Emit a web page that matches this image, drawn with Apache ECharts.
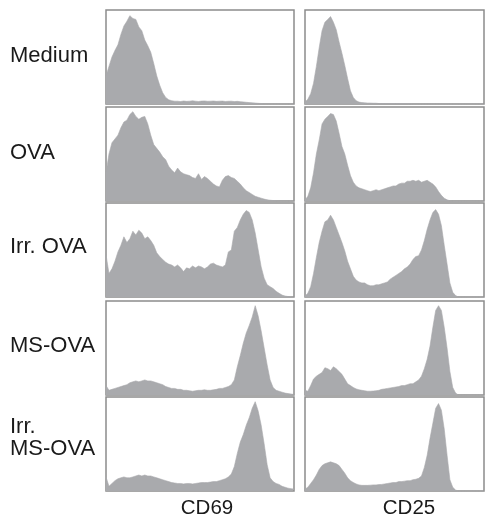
<!DOCTYPE html>
<html>
<head>
<meta charset="utf-8">
<script src="https://cdn.jsdelivr.net/npm/echarts@6/dist/echarts.min.js"></script>
<style>html,body{margin:0;padding:0;background:#fff;}#c{width:485px;height:519px;}</style>
</head>
<body>
<div id="c"></div>
<script>
// Row (sample) labels and column (marker) labels
const rowLabels = ["Medium", "OVA", "Irr. OVA", "MS-OVA", "Irr.\nMS-OVA"];
const colLabels = ["CD69", "CD25"];

// Histogram bin heights (% of panel height), 64 bins each
const mediumCD69 = [30,40,50,57,63,74,83,88,94,91,90,82,78,68,62,55,43,30,20,12,7,4.5,3.5,3,3,2.6,3.2,2.8,3,3.4,3,2.7,3.1,3.3,2.9,3,3.2,2.8,3,3.1,2.7,2.9,3,2.6,2.8,2.5,2.2,1.8,1.5,1.2,1,0.7,0.5,0,0,0,0,0,0,0,0,0,0,0];
const mediumCD25 = [2,5,11,22,40,60,78,87,90,93,87,79,66,54,41,27,14,7,3.5,2,1.5,1.2,1,1,0.8,0.8,0.5,0.5,0.5,0.5,0.5,0.5,0.5,0.5,0.5,0.5,0.5,0.4,0,0,0,0,0,0,0,0,0,0,0,0,0,0,0,0,0,0,0,0,0,0,0,0,0,0];
const ovaCD69 = [30,50,62,66,70,78,84,86,92,95,90,87,89,90,82,70,60,56,52,47,44,37,33,30,35,31,29,28,27,25,24,29,23,26,24,21,18,16,15,22,26,27,25,24,21,18,14,11,9,7,5,4,3,2,1.3,0.8,0.5,0.3,0,0,0,0,0,0];
const ovaCD25 = [1,5,14,30,50,65,82,87,90,93,92,85,72,58,50,38,27,20,16,14,13,12,11,10,11,12,11,12,13,14,15,16,16,18,19,19,21,21,22,21,22,20,21,22,20,18,15,10,6,3,1.2,0.3,0,0,0,0,0,0,0,0,0,0,0,0];
const irrOvaCD69 = [45,25,30,38,48,55,64,58,62,70,66,71,68,62,64,60,55,47,43,40,37,35,34,32,34,31,27,31,30,33,31,33,32,30,32,35,36,34,33,32,34,48,50,70,74,82,88,92,90,82,68,50,32,20,13,11,9,6,4,2,1,0.5,0.2,0];
const irrOvaCD25 = [1,4,11,25,42,58,70,80,82,87,82,74,66,58,49,38,30,22,18,16,15,15,13,12,12,13,13,14,15,16,19,21,23,25,27,30,32,35,40,43,44,50,60,72,82,90,93,88,76,55,35,15,5,1.5,0,0,0,0,0,0,0,0,0,0];
const msOvaCD69 = [10,5,6,7,8,9,10,11,13,14,15,14,15,16,15,15,14,13,12,11,9,8,7,7,6,6,5,5,4.5,4,4.5,5,5,5.5,5,5,5.5,6,7,7,8,9,11,16,30,42,55,66,74,83,95,84,68,50,32,16,8,5,4,3,2,1.5,1,0.5];
const msOvaCD25 = [5,4,10,17,20,22,24,29,28,26,30,28,25,22,17,12,10,8,6.5,5.5,5,4.5,4,4,4.2,4.5,5,6,6.5,7,7.5,8,8.5,9,10,10,11,12,12,14,16,20,28,38,52,72,90,95,90,72,50,25,8,2,0,0,0,0,0,0,0,0,0,0];
const irrMsOvaCD69 = [15,5,8,11,13,14,15,14,14,15,16,17,16,17,16,16,15,14,13,12,11,10,9,8.5,8,8,7.5,8,8,7.5,8,8.5,9,9,9,9.5,10,10,11,12,13,15,18,26,40,52,60,70,78,88,95,85,70,50,28,14,10,8,7,5,4,3,2.5,2];
const irrMsOvaCD25 = [2,4,8,12,17,23,27,29,30,31,30,29,27,23,19,14,11,9,7.5,6.5,6,6,6,6.2,6.5,6.5,6.8,7,7.5,8,8.5,9,9,10,10,10.5,11,11,12,12.5,13.5,16,25,38,56,72,88,93,86,66,38,12,4,1,0,0,0,0,0,0,0,0,0,0];

const panels = [
  [mediumCD69, mediumCD25],
  [ovaCD69, ovaCD25],
  [irrOvaCD69, irrOvaCD25],
  [msOvaCD69, msOvaCD25],
  [irrMsOvaCD69, irrMsOvaCD25]
];
const bins = mediumCD69.map((_, i) => String(i));

const colLeft = [106, 305];
const colWidth = [188, 179];
const rowTop = [10, 107, 203, 301, 397];
const rowHeight = 94;
const fill = '#a9aaad';
const border = '#8c8c8c';

const grids = [], xAxes = [], yAxes = [], series = [];
let k = 0;
for (let r = 0; r < panels.length; r++) {
  for (let c = 0; c < 2; c++) {
    grids.push({left: colLeft[c], top: rowTop[r], width: colWidth[c], height: rowHeight,
      show: true, borderColor: border, borderWidth: 1.5, backgroundColor: '#fff'});
    xAxes.push({type: 'category', gridIndex: k, data: bins, boundaryGap: false, show: false});
    yAxes.push({type: 'value', gridIndex: k, min: 0, max: 100, show: false});
    series.push({type: 'line', xAxisIndex: k, yAxisIndex: k, data: panels[r][c],
      symbol: 'none', silent: true, animation: false,
      lineStyle: {width: 0.6, color: fill}, areaStyle: {color: fill, opacity: 1}});
    k++;
  }
}

const labelY = [56, 153, 247, 346, 438];
const graphic = [];
rowLabels.forEach((t, i) => {
  graphic.push({type: 'text', x: 10, y: labelY[i], silent: true,
    style: {text: t, fontSize: 22, fontFamily: 'Liberation Sans, Arial, sans-serif', fill: '#1a1a1a',
      verticalAlign: 'middle', lineHeight: 22}});
});
const colCx = [207, 409];
colLabels.forEach((t, i) => {
  graphic.push({type: 'text', x: colCx[i], y: 508, silent: true,
    style: {text: t, fontSize: 20.5, fontFamily: 'Liberation Sans, Arial, sans-serif', fill: '#1a1a1a',
      align: 'center', verticalAlign: 'middle'}});
});

const chart = echarts.init(document.getElementById('c'), null, {renderer: 'canvas'});
chart.setOption({animation: false, grid: grids, xAxis: xAxes, yAxis: yAxes, series: series, graphic: graphic});
</script>
</body>
</html>
